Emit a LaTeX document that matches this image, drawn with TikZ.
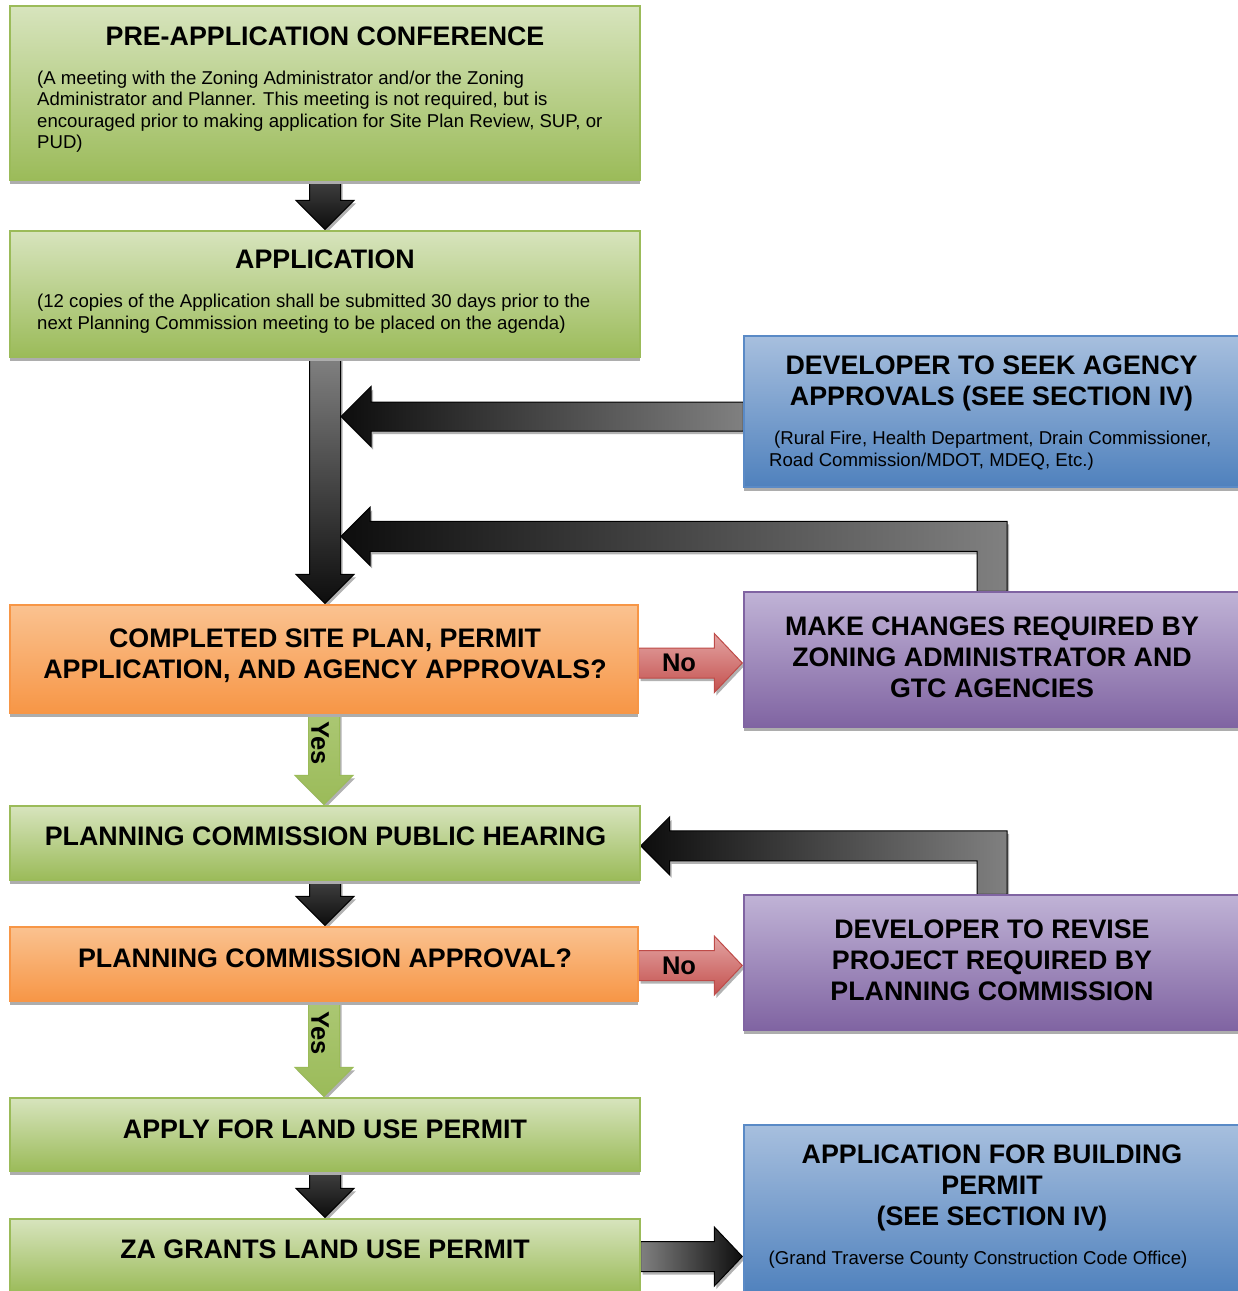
\documentclass[tikz,border=0pt]{standalone}
\usepackage{fontspec}
\setmainfont{Liberation Sans}
\usetikzlibrary{calc}
\pgfdeclarelayer{bg}
\pgfsetlayers{bg,main}
\definecolor{gtop}{HTML}{D7E4BD}
\definecolor{gbot}{HTML}{9BBB59}
\definecolor{gline}{HTML}{9BBB59}
\definecolor{otop}{HTML}{FAC290}
\definecolor{obot}{HTML}{F79646}
\definecolor{oline}{HTML}{F79646}
\definecolor{btop}{HTML}{A7BFDE}
\definecolor{bbot}{HTML}{4F81BD}
\definecolor{bline}{HTML}{5A8AC6}
\definecolor{ptop}{HTML}{C0B3D6}
\definecolor{pbot}{HTML}{8064A2}
\definecolor{pline}{HTML}{8064A2}
\definecolor{rtop}{HTML}{E3A4A3}
\definecolor{rbot}{HTML}{C4514E}
\definecolor{rline}{HTML}{BE4B48}
\definecolor{ytop}{HTML}{ABC773}
\definecolor{ybot}{HTML}{9BBB59}
\definecolor{agray}{HTML}{808080}
\definecolor{ablack}{HTML}{0D0D0D}

\newcommand\fatdown[3]{%
  \path[#1] let \p1=(#2), \p2=(#3) in
    (\x1-15.5pt,\y1) -- (\x1+15.5pt,\y1) -- (\x1+15.5pt,\y2+30pt) -- (\x1+29pt,\y2+30pt)
    -- (\x1,\y2+1pt) -- (\x1-29pt,\y2+30pt) -- (\x1-15.5pt,\y2+30pt) -- cycle;}
\newcommand\fatright[3]{%
  \path[#1] let \p1=(#2), \p2=(#3) in
    (\x1,\y1+15pt) -- (\x2-29pt,\y1+15pt) -- (\x2-29pt,\y1+29.5pt) -- (\x2-1pt,\y1)
    -- (\x2-29pt,\y1-29.5pt) -- (\x2-29pt,\y1-15pt) -- (\x1,\y1-15pt) -- cycle;}
\newcommand\fatleft[3]{%
  \path[#1] let \p1=(#2), \p2=(#3) in
    (\x1,\y1+14.5pt) -- (\x2+30pt,\y1+14.5pt) -- (\x2+30pt,\y1+30pt) -- (\x2,\y1)
    -- (\x2+30pt,\y1-30pt) -- (\x2+30pt,\y1-14.5pt) -- (\x1,\y1-14.5pt) -- cycle;}
\newcommand\fatL[4]{%
  \path[#1] let \p1=(#2), \p2=(#3), \p3=(#4) in
    (\x1+15pt,\y1) -- (\x1+15pt,\y2+15pt) -- (\x3+29pt,\y2+15pt) -- (\x3+29pt,\y2+29pt)
    -- (\x3,\y2) -- (\x3+29pt,\y2-29pt) -- (\x3+29pt,\y2-15pt) -- (\x1-15pt,\y2-15pt)
    -- (\x1-15pt,\y1) -- cycle;}

\tikzset{
  boxbase/.style={rectangle, inner sep=0pt, line width=1.4pt,
    preaction={fill=black!32, transform canvas={yshift=-4pt}}},
  gbox/.style={boxbase, draw=gline, top color=gtop, bottom color=gbot},
  obox/.style={boxbase, draw=oline, top color=otop, bottom color=obot},
  bbox/.style={boxbase, draw=bline, top color=btop, bottom color=bbot},
  pbox/.style={boxbase, draw=pline, top color=ptop, bottom color=pbot},
  arrbase/.style={line width=1pt, line join=miter,
    preaction={fill=black!30, transform canvas={shift={(2pt,-3pt)}}}},
  darr/.style={arrbase, draw=black, top color=black!75, bottom color=ablack},
  darrlong/.style={arrbase, draw=black, top color=agray, bottom color=ablack},
  harrL/.style={arrbase, draw=black, left color=ablack, right color=agray},
  harrR/.style={arrbase, draw=black, left color=agray, right color=ablack},
  noarr/.style={arrbase, draw=rline, top color=rtop, bottom color=rbot},
  yarr/.style={arrbase, draw=ybot, top color=ytop, bottom color=ybot},
  ttl/.style={font=\fontsize{26.8}{30.8}\selectfont\bfseries, inner sep=0pt, align=center},
  body/.style={font=\fontsize{18.6}{21.4}\selectfont, inner sep=0pt, align=left},
  lbl/.style={font=\fontsize{25.5}{28}\selectfont\bfseries, inner sep=0pt}
}

\begin{document}
\begin{tikzpicture}[x=1pt,y=-1pt]
\useasboundingbox (0,0) rectangle (1238,1291);

% boxes
\node[gbox, minimum width=630pt, minimum height=174pt] (b1) at (325,93) {};
\node[gbox, minimum width=630pt, minimum height=126pt] (b2) at (325,294) {};
\node[bbox, minimum width=496pt, minimum height=151pt] (ag) at (992,411.5) {};
\node[obox, minimum width=628pt, minimum height=108pt] (q1) at (324,659) {};
\node[pbox, minimum width=496pt, minimum height=135pt] (ch) at (992,659.5) {};
\node[gbox, minimum width=630pt, minimum height=74pt] (ph) at (325,843) {};
\node[obox, minimum width=628pt, minimum height=74pt] (q2) at (324,964) {};
\node[pbox, minimum width=496pt, minimum height=135pt] (rv) at (992,962.5) {};
\node[gbox, minimum width=630pt, minimum height=73pt] (lu) at (325,1134.5) {};
\node[gbox, minimum width=630pt, minimum height=74pt] (za) at (325,1256) {};
\node[bbox, minimum width=496pt, minimum height=170pt] (bp) at (992,1210) {};

% texts
\node[ttl] (t1) at (325,36) {PRE-APPLICATION CONFERENCE};
\node[body, anchor=west] (t1b) at (37,111.8) {(A meeting with the Zoning Administrator and/or the Zoning\\Administrator and Planner. This meeting is not required, but is\\encouraged prior to making application for Site Plan Review, SUP, or\\PUD)};
\node[ttl] (t2) at (325,259) {APPLICATION};
\node[body, anchor=west] (t2b) at (37,313.7) {(12 copies of the Application shall be submitted 30 days prior to the\\next Planning Commission meeting to be placed on the agenda)};
\node[ttl] (agt) at (991.5,383.2) {DEVELOPER TO SEEK AGENCY\\APPROVALS (SEE SECTION IV)};
\node[body, anchor=west] (agb) at (769,450.7) {\hspace*{5pt}(Rural Fire, Health Department, Drain Commissioner,\\Road Commission/MDOT, MDEQ, Etc.)};
\node[ttl] (q1t) at (325,656) {COMPLETED SITE PLAN, PERMIT\\APPLICATION, AND AGENCY APPROVALS?};
\node[ttl] (cht) at (992,657.5) {MAKE CHANGES REQUIRED BY\\ZONING ADMINISTRATOR AND\\GTC AGENCIES};
\node[ttl] (pht) at (325.5,836) {PLANNING COMMISSION PUBLIC HEARING};
\node[ttl] (q2t) at (325,958) {PLANNING COMMISSION APPROVAL?};
\node[ttl] (rvt) at (992,960.5) {DEVELOPER TO REVISE\\PROJECT REQUIRED BY\\PLANNING COMMISSION};
\node[ttl] (lut) at (325,1129) {APPLY FOR LAND USE PERMIT};
\node[ttl] (zat) at (325,1249) {ZA GRANTS LAND USE PERMIT};
\node[ttl] (bpt) at (992,1188.2) {APPLICATION FOR BUILDING\\PERMIT\\(SEE SECTION IV)};
\node[body] (bpb) at (978,1259.5) {(Grand Traverse County Construction Code Office)};

% connectors
\coordinate (k1) at ($(ch.north)+(0,-55)$);
\coordinate (k2) at ($(rv.north)+(0,-48.5)$);
\begin{pgfonlayer}{bg}
\fatdown{darr}{b1.south}{b2.north}
\fatdown{darrlong}{b2.south}{q1.north}
\fatleft{harrL}{$(ag.west)+(0,5)$}{$(b2.south)+(16,0)$}
\fatL{harrL}{ch.north}{k1}{$(b2.south)+(16,0)$}
\fatright{noarr}{$(q1.east)+(0,4)$}{ch.west}
\fatdown{yarr}{q1.south}{ph.north}
\fatL{harrL}{rv.north}{k2}{ph.east}
\fatdown{darr}{ph.south}{q2.north}
\fatright{noarr}{$(q2.east)+(0,1.5)$}{rv.west}
\fatdown{yarr}{q2.south}{lu.north}
\fatdown{darr}{lu.south}{za.north}
\fatright{harrR}{$(za.east)+(0,0.5)$}{bp.west}
\end{pgfonlayer}

% labels on connectors
\node[lbl] (no1) at (679,663) {No};
\node[lbl] (no2) at (679,966) {No};
\node[lbl, rotate=-90] (yes1) at (320,743) {Yes};
\node[lbl, rotate=-90] (yes2) at (320,1033) {Yes};
\end{tikzpicture}
\end{document}
